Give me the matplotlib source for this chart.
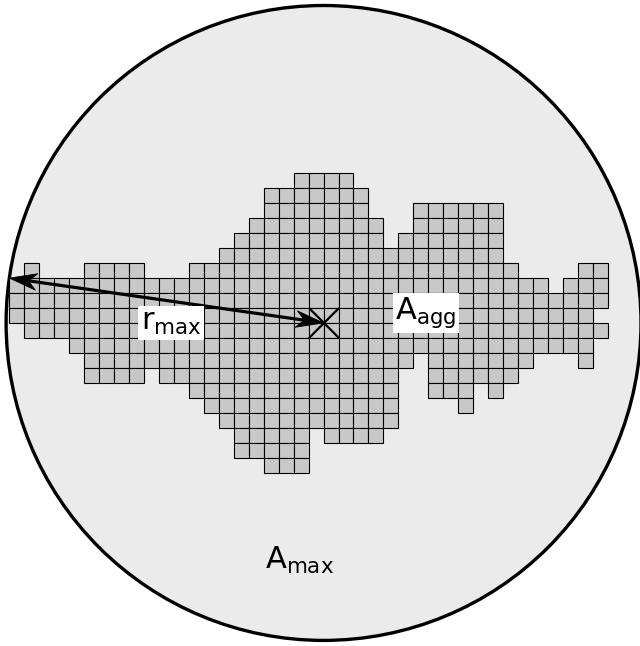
import matplotlib
matplotlib.use("Agg")
import matplotlib.pyplot as plt
from matplotlib.patches import Rectangle, Circle, Polygon
import numpy as np

plt.rcParams['mathtext.fontset'] = 'dejavusans'
plt.rcParams['font.family'] = ['DejaVu Sans']

# aggregate: row index (top->bottom) and filled column spans (inclusive)
row_index = list(range(-6, 14))
row_spans = [
    [(19, 22)],
    [(17, 23)],
    [(17, 23), (27, 32)],
    [(16, 24), (27, 32)],
    [(15, 24), (26, 32)],
    [(14, 32)],
    [(1, 1), (5, 8), (12, 33), (38, 39)],
    [(0, 35), (37, 39)],
    [(0, 39)],
    [(0, 38)],
    [(1, 39)],
    [(4, 38)],
    [(5, 26), (28, 34), (38, 38)],
    [(5, 8), (10, 25), (28, 33)],
    [(12, 25), (28, 30), (32, 32)],
    [(13, 25), (30, 30)],
    [(14, 25)],
    [(15, 19), (21, 24)],
    [(15, 19)],
    [(17, 19)],
]
center = (21, 4)          # centre of mass marker (grid units)
far_point = (0, 1)        # farthest cell corner
labels = [r'$\mathrm{r}_{\mathrm{max}}$', r'$\mathrm{A}_{\mathrm{agg}}$', r'$\mathrm{A}_{\mathrm{max}}$']

fig = plt.figure(figsize=(6.4, 6.46), dpi=100)
ax = fig.add_axes([0, 0, 1, 1])
ax.set_xlim(-0.621, 42.146)
ax.set_ylim(25.586, -17.58)
ax.set_aspect('equal')
ax.axis('off')

r_max = np.hypot(center[0] - far_point[0], center[1] - far_point[1])
ax.add_patch(Circle(center, r_max, facecolor='#ebebeb', edgecolor='black',
                    linewidth=2.4, zorder=1))

for r, spans in zip(row_index, row_spans):
    for a, b in spans:
        for c in range(a, b + 1):
            ax.add_patch(Rectangle((c, r), 1, 1, facecolor='#c8c8c8',
                                   edgecolor='black', linewidth=0.8, zorder=2))

ax.plot(center[0], center[1], marker='x', markersize=21, mew=1.6,
        color='black', zorder=5)

# double-headed stealth arrow between centre and farthest point
p0 = np.array(center, float)
p1 = np.array(far_point, float)
u = (p1 - p0) / np.linalg.norm(p1 - p0)
n = np.array([-u[1], u[0]])
L, W, N = 1.85, 0.56, 1.3


def head(tip, d):
    back = tip - d * L
    notch = tip - d * N
    return np.array([tip, back + n * W, notch, back - n * W]), notch


h1, n1 = head(p1, u)
h2, n2 = head(p0, -u)
ax.plot([n1[0], n2[0]], [n1[1], n2[1]], color='black', lw=2.3,
        solid_capstyle='butt', zorder=6)
ax.add_patch(Polygon(h1, closed=True, facecolor='black', edgecolor='black',
                     lw=0.5, zorder=6))
ax.add_patch(Polygon(h2, closed=True, facecolor='black', edgecolor='black',
                     lw=0.5, zorder=6))

box = dict(facecolor='white', edgecolor='none', boxstyle='square,pad=0.08')
ax.text(10.8, 4.0, labels[0], fontsize=22, ha='center', va='center',
        bbox=box, zorder=7)
ax.text(27.84, 3.33, labels[1], fontsize=22, ha='center', va='center',
        bbox=box, zorder=7)
ax.text(19.42, 19.84, labels[2], fontsize=22, ha='center', va='center',
        zorder=7)

fig.savefig('out.png', dpi=100)
